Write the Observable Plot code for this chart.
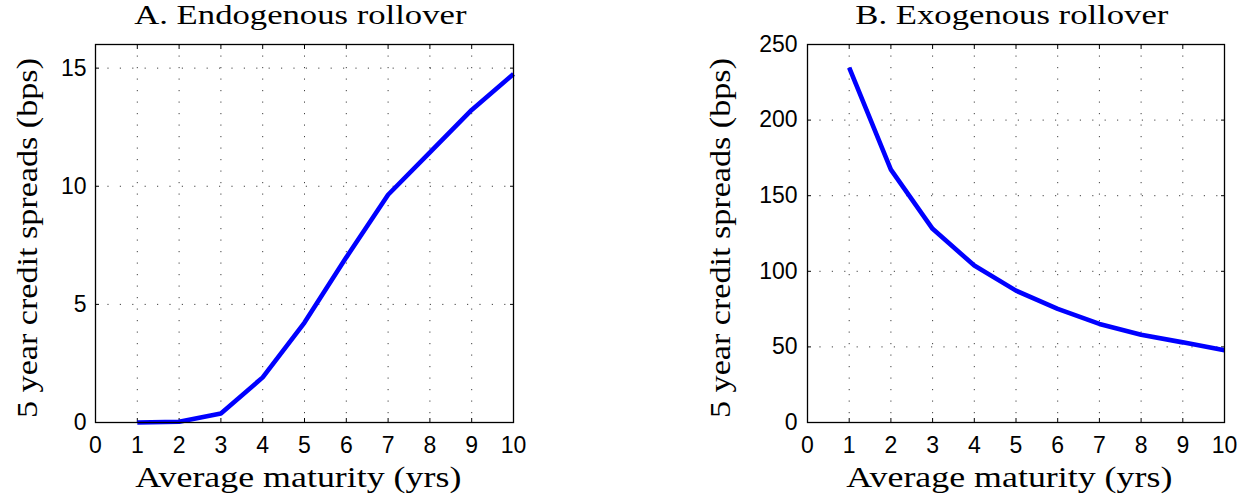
<!DOCTYPE html>
<html>
<head>
<meta charset="utf-8">
<script src="https://cdn.jsdelivr.net/npm/d3@7"></script>
<script src="https://cdn.jsdelivr.net/npm/@observablehq/plot@0.6"></script>
<style>
  html, body { margin: 0; padding: 0; background: #fff; }
  #wrap { position: relative; width: 1250px; height: 497px; overflow: hidden; }
  .lab { position: absolute; left: 0; top: 0; white-space: nowrap; line-height: 1; color: #000; z-index: 2; transform-origin: 50% 50%; }
  .panel { position: absolute; top: 0px; }
  .panel svg { overflow: visible; }
</style>
</head>
<body>
<div id="wrap">
  <div class="panel" id="pA" style="left:0px"></div>
  <div class="panel" id="pB" style="left:700px"></div>
</div>
<script>
const maturity = [1, 2, 3, 4, 5, 6, 7, 8, 9, 10];
const spreadEndogenous = [0, 0.03, 0.38, 1.91, 4.23, 6.99, 9.64, 11.43, 13.23, 14.75];
const spreadExogenous = [234.7, 167.2, 128.1, 103.8, 87.2, 75.1, 65.2, 58.1, 53.0, 47.8];
const xTicks = [0, 1, 2, 3, 4, 5, 6, 7, 8, 9, 10];
const yTicksA = [0, 5, 10, 15];
const yTicksB = [0, 50, 100, 150, 200, 250];
const titles = ["A. Endogenous rollover", "B. Exogenous rollover"];
const xLabel = "Average maturity (yrs)";
const yLabel = "5 year credit spreads (bps)";

function panel(values, yDomain, yTicks, opts) {
  const data = maturity.map((m, i) => ({m, v: values[i]}));
  const blank = () => "";
  return Plot.plot({
    width: opts.width,
    height: 497,
    marginLeft: opts.marginLeft,
    marginRight: opts.marginRight,
    marginTop: 44,
    marginBottom: 75,
    style: {fontFamily: "'Liberation Sans', Arial, sans-serif", fontSize: "23px", color: "#000", background: "transparent", overflow: "visible"},
    x: {domain: [0, 10]},
    y: {domain: yDomain},
    marks: [
      Plot.gridX(xTicks, {stroke: "#000", strokeOpacity: 0.75, strokeDasharray: "1.2,10.3", strokeWidth: 1}),
      Plot.gridY(yTicks, {stroke: "#000", strokeOpacity: 0.75, strokeDasharray: "1.2,11.2", strokeWidth: 1}),
      Plot.axisX({anchor: "bottom", ticks: xTicks, tickSize: 0, tickPadding: 14.5, label: null, fontSize: 23}),
      Plot.axisY({anchor: "left", ticks: yTicks, tickSize: 0, tickPadding: opts.yPad, label: null, fontSize: 23}),
      Plot.axisX({anchor: "bottom", ticks: xTicks, tickSize: -4, tickFormat: blank, label: null}),
      Plot.axisX({anchor: "top", ticks: xTicks, tickSize: -4, tickFormat: blank, label: null}),
      Plot.axisY({anchor: "left", ticks: yTicks, tickSize: -4, tickFormat: blank, label: null}),
      Plot.axisY({anchor: "right", ticks: yTicks, tickSize: -4, tickFormat: blank, label: null}),
      Plot.line(data, {x: "m", y: "v", stroke: "#0000ff", strokeWidth: 4.6, strokeLinejoin: "miter", strokeLinecap: "butt"}),
      Plot.frame({stroke: "#000", strokeWidth: 1.3})
    ]
  });
}

document.getElementById("pA").append(panel(spreadEndogenous, [0, 16], yTicksA, {width: 560, marginLeft: 95, marginRight: 47, yPad: 9}));
document.getElementById("pB").append(panel(spreadExogenous, [0, 250], yTicksB, {width: 550, marginLeft: 107, marginRight: 26, yPad: 10}));

// Serif texts (HTML), horizontally stretched to the reference's Computer Modern widths
const wrap = document.getElementById("wrap");
const ASC = 0.8375; // baseline offset within a line-height:1 box for Liberation Serif
function addLabel(text, size, cx, baseline, targetW, rotate, scaleOverride) {
  const el = document.createElement("div");
  el.className = "lab";
  el.textContent = text;
  el.style.fontFamily = "'Liberation Serif', 'Times New Roman', serif";
  el.style.fontSize = size + "px";
  wrap.appendChild(el);
  const w = el.getBoundingClientRect().width;
  const h = size;
  const s = scaleOverride || targetW / w;
  if (!rotate) {
    el.style.left = (cx - w / 2) + "px";
    el.style.top = (baseline - ASC * size) + "px";
    el.style.transform = `scaleX(${s})`;
  } else {
    // rotated -90deg: baseline is a vertical line at x = baseline; text centred at y = cx
    const boxCx = baseline - (ASC - 0.5) * size;
    el.style.left = (boxCx - w / 2) + "px";
    el.style.top = (cx - h / 2) + "px";
    el.style.transform = `rotate(-90deg) scaleX(${s})`;
  }
  return s;
}
const sTitle = addLabel(titles[1], 27, 1011.5, 25, 313, false);
addLabel(titles[0], 27, 300, 25, 0, false, sTitle);
const sX = addLabel(xLabel, 30, 298, 487.3, 326, false);
addLabel(xLabel, 30, 1009, 487.3, 0, false, sX);
const sY = addLabel(yLabel, 30, 238, 37.5, 360, true);
addLabel(yLabel, 30, 238, 730, 0, true, sY);
</script>
</body>
</html>
